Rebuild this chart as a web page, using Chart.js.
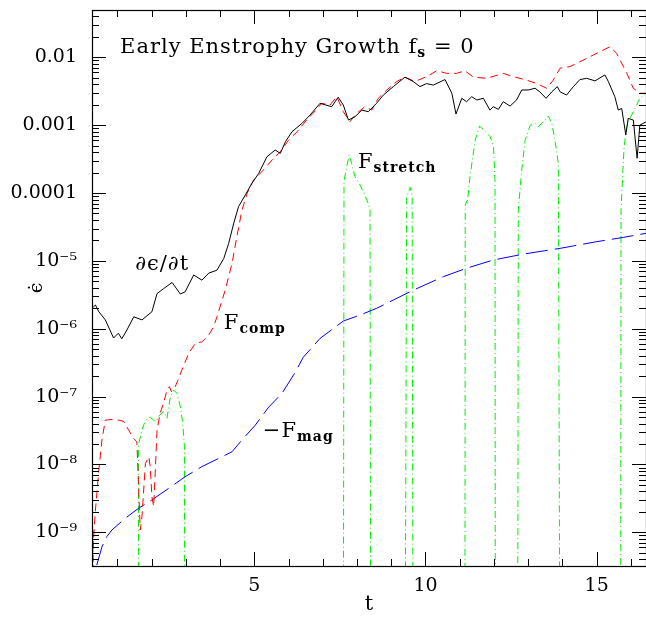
<!DOCTYPE html>
<html>
<head>
<meta charset="utf-8">
<script src="https://cdn.jsdelivr.net/npm/chart.js@4.4.1/dist/chart.umd.min.js"></script>
<style>
body{margin:0;background:#fff}
#wrap{width:646px;height:620px;position:relative}
</style>
</head>
<body>
<div id="wrap"><canvas id="grafico"></canvas></div>
<script>
// d(eps)/dt  (solid black)
const tDedt = [0.26,0.36,0.46,0.65,0.89,1.03,1.13,1.28,1.48,1.72,2.01,2.16,2.35,2.60,2.84,2.98,3.23,3.47,3.67,3.91,
  4.11,4.25,4.40,4.54,4.74,4.93,5.13,5.37,5.61,5.76,5.91,6.10,6.39,6.63,6.92,7.26,7.45,7.60,7.75,7.94,
  8.14,8.33,8.57,8.77,9.06,9.40,9.64,9.84,10.03,10.23,10.57,10.77,10.89,11.06,11.20,11.35,11.50,11.69,11.88,11.98,
  12.13,12.27,12.47,12.66,12.81,13.00,13.20,13.34,13.52,13.69,13.85,13.93,14.12,14.32,14.51,14.71,14.95,15.24,15.34,15.53,
  15.63,15.73,15.85,15.92,16.07,16.18,16.26,16.44];
const dedt = [2.0e-6,2.24e-6,1.78e-6,1.35e-6,7.3e-7,8.6e-7,7.1e-7,9.6e-7,1.5e-6,1.35e-6,1.78e-6,3.3e-6,3.9e-6,4.8e-6,3.25e-6,3.5e-6,6.2e-6,5.2e-6,6.6e-6,7.3e-6,
  1.09e-5,1.8e-5,3.6e-5,6.3e-5,9.4e-5,1.39e-4,1.95e-4,3.43e-4,4.3e-4,3.85e-4,5.7e-4,8.0e-4,1.06e-3,1.41e-3,2.1e-3,1.87e-3,2.58e-3,1.98e-3,1.19e-3,1.33e-3,
  1.67e-3,1.58e-3,2.1e-3,2.78e-3,3.7e-3,5.1e-3,4.4e-3,3.7e-3,4.1e-3,3.9e-3,4.7e-3,2.95e-3,1.46e-3,2.49e-3,2.22e-3,2.63e-3,2.35e-3,2.49e-3,1.67e-3,1.87e-3,
  1.71e-3,2.22e-3,1.91e-3,2.35e-3,3.3e-3,3.3e-3,3.5e-3,3.1e-3,2.49e-3,3.1e-3,3.7e-3,3.1e-3,2.78e-3,3.7e-3,4.7e-3,4.9e-3,4.5e-3,5.5e-3,4.4e-3,2.63e-3,
  1.67e-3,1.77e-3,7.2e-4,1.26e-3,1.19e-3,3.25e-4,1.0e-3,1.12e-3];

// F_comp  (red dashed)
const tComp = [0.26,0.36,0.46,0.55,0.65,0.85,1.04,1.19,1.33,1.48,1.57,1.62,1.67,1.72,1.82,1.92,1.96,2.01,2.06,2.11,
  2.16,2.25,2.35,2.45,2.52,2.58,2.69,2.77,2.89,3.08,3.28,3.47,3.67,3.81,3.91,4.15,4.35,4.49,4.64,4.79,
  4.98,5.22,5.52,5.76,6.00,6.25,6.33,6.53,6.72,6.97,7.21,7.41,7.60,7.79,7.99,8.23,8.43,8.62,8.87,9.16,
  9.40,9.69,10.04,10.33,10.62,10.91,11.15,11.40,11.79,12.27,12.56,12.96,13.25,13.54,13.73,13.93,14.22,14.51,14.90,15.19,
  15.39,15.58,15.88,16.07,16.26,16.44];
const fComp = [3.5e-10,2.13e-9,8.3e-9,2.3e-8,4.5e-8,4.6e-8,4.5e-8,4.3e-8,3.2e-8,2.4e-8,2.16e-8,4.7e-9,1.08e-9,1.7e-9,1.04e-8,1.3e-8,9.3e-9,3.35e-9,2.4e-9,8.3e-9,
  3.2e-8,5.7e-8,8e-8,1.25e-7,1.4e-7,1.18e-7,1.4e-7,1.75e-7,2.5e-7,4.3e-7,6.1e-7,6.4e-7,8.1e-7,1.07e-6,1.5e-6,3.7e-6,9.2e-6,2.27e-5,5.6e-5,9.9e-5,
  1.56e-4,2.06e-4,3.07e-4,4.07e-4,6.0e-4,8.0e-4,9.0e-4,1.19e-3,1.5e-3,2.1e-3,1.98e-3,2.63e-3,1.58e-3,1.12e-3,1.5e-3,1.87e-3,1.67e-3,2.49e-3,3.3e-3,4.4e-3,
  5.1e-3,4.4e-3,5.2e-3,6.35e-3,5.8e-3,5.8e-3,6.35e-3,5.1e-3,4.9e-3,5.8e-3,5.2e-3,4.6e-3,4.1e-3,3.5e-3,4.6e-3,6.9e-3,7.3e-3,8.6e-3,1.08e-2,1.28e-2,
  1.43e-2,1.15e-2,5.8e-3,3.5e-3,2.95e-3,2.95e-3];

// -F_mag  (blue long dashes)
const tMag = [0.40,0.55,0.69,0.84,1.23,1.62,2.01,2.50,2.98,3.47,3.96,4.35,4.64,5.03,5.42,5.81,6.20,6.43,6.92,7.31,
  7.60,8.09,8.57,9.06,9.64,10.52,11.20,11.98,12.86,13.93,15.00,15.78,16.44];
const fMag = [3.3e-10,6.1e-10,8.6e-10,1.08e-9,1.61e-9,2.26e-9,3.0e-9,4.45e-9,6.6e-9,9.3e-9,1.23e-8,1.54e-8,2.3e-8,3.8e-8,7.0e-8,1.12e-7,2.3e-7,3.8e-7,7.2e-7,1.01e-6,
  1.3e-6,1.59e-6,2.0e-6,2.65e-6,3.7e-6,5.85e-6,7.8e-6,1.03e-5,1.26e-5,1.53e-5,1.92e-5,2.22e-5,2.55e-5];

// F_stretch  (green dash-dot); 1e-12 = off the bottom of the plot
const tStretch = [0.26,0.30,0.33,1.61,1.62,1.72,1.82,1.96,2.11,2.25,2.35,2.45,2.55,2.65,2.74,2.84,2.91,2.96,2.97,
  7.60,7.62,7.70,7.77,7.84,7.94,8.09,8.18,8.33,8.38,8.40,
  9.40,9.45,9.55,9.61,9.64,
  11.15,11.16,11.20,11.22,11.30,11.45,11.58,11.70,11.89,11.99,12.03,12.04,
  12.69,12.71,12.81,12.91,13.06,13.20,13.29,13.44,13.59,13.69,13.78,13.88,13.93,
  15.70,15.71,15.80,15.88,15.97,16.12,16.26,16.44];
const fStretch = [1.2e-9,1.0e-9,1e-12,1e-12,2.0e-8,3.2e-8,4.5e-8,4.95e-8,4.3e-8,5.4e-8,6.0e-8,4.8e-8,1.0e-7,1.25e-7,1.12e-7,7.1e-8,4.0e-8,1.83e-8,1e-12,
  1e-12,1.5e-4,2.45e-4,3.63e-4,2.74e-4,1.74e-4,1.31e-4,1.05e-4,7.0e-5,5.6e-5,1e-12,
  1e-12,8.8e-5,1.21e-4,9e-5,1e-12,
  1e-12,6.5e-5,7.6e-5,7.0e-5,1.74e-4,6.0e-4,9.7e-4,8.5e-4,6.8e-4,4.6e-4,1.5e-4,1e-12,
  1e-12,5.6e-5,2.18e-4,6.0e-4,1.0e-3,1.06e-3,9.5e-4,1.12e-3,1.36e-3,1.06e-3,6.0e-4,2.74e-4,1e-12,
  1e-12,5.6e-5,4.8e-4,9.5e-4,1.26e-3,1.77e-3,2.49e-3,2.95e-3];

const yTickValues = [1e-9,1e-8,1e-7,1e-6,1e-5,1e-4,1e-3,1e-2];
const yTickLabels = ['10⁻⁹','10⁻⁸','10⁻⁷','10⁻⁶','10⁻⁵','0.0001','0.001','0.01'];
const xTickValues = [5,10,15];
const xTickLabels = ['5','10','15'];

const FONT = '"DejaVu Serif", serif';

function puntos(ts, vs){
    return ts.map((t, i) => ({x: t, y: vs[i]}));
}

// text put on the plot, anchored at data coordinates (left edge, baseline)
const etiquetas = [
    {t: 1.08, v: 0.0117, parts: [['Early Enstrophy Growth f', 0], ['s', 1], [' = 0', 0]]},
    {t: 1.52, v: 7.35e-6, parts: [['∂ϵ/∂t', 0]]},
    {t: 4.11, v: 9.75e-7, parts: [['F', 0], ['comp', 1]]},
    {t: 8.03, v: 2.34e-4, parts: [['F', 0], ['stretch', 1]]},
    {t: 5.25, v: 2.54e-8, parts: [['−F', 0], ['mag', 1]]}
];

const marco = {
    id: 'marco',
    afterDatasetsDraw(chart){
        const ctx = chart.ctx;
        const a = chart.chartArea;
        const xs = chart.scales.x, ys = chart.scales.y;
        ctx.save();
        ctx.strokeStyle = '#000';
        ctx.lineWidth = 1.2;
        ctx.strokeRect(a.left + 0.5, a.top + 0.5, a.right - a.left, a.bottom - a.top);
        ctx.lineWidth = 1;
        ctx.beginPath();
        // x ticks, every 1, major every 5
        for (let t = 1; t <= 16; t++){
            const px = Math.round(xs.getPixelForValue(t)) + 0.5;
            const len = (t % 5 === 0) ? 14 : 7;
            ctx.moveTo(px, a.bottom); ctx.lineTo(px, a.bottom - len);
            ctx.moveTo(px, a.top); ctx.lineTo(px, a.top + len);
        }
        // y ticks, decades and 2..9
        for (let e = -10; e <= -1; e++){
            for (let m = 1; m <= 9; m++){
                const v = m * Math.pow(10, e);
                if (v < ys.min || v > ys.max) continue;
                const py = Math.round(ys.getPixelForValue(v)) + 0.5;
                const len = (m === 1) ? 14 : 7;
                ctx.moveTo(a.left, py); ctx.lineTo(a.left + len, py);
                ctx.moveTo(a.right, py); ctx.lineTo(a.right - len, py);
            }
        }
        ctx.stroke();

        ctx.fillStyle = '#000';
        ctx.textBaseline = 'alphabetic';
        ctx.textAlign = 'left';
        ctx.letterSpacing = '1px';
        etiquetas.forEach(l => {
            let x = xs.getPixelForValue(l.t);
            const y = ys.getPixelForValue(l.v);
            l.parts.forEach(p => {
                ctx.font = p[1] ? 'bold 14px ' + FONT : '21px ' + FONT;
                ctx.fillText(p[0], x, y + (p[1] ? 4 : 0));
                x += ctx.measureText(p[0]).width;
            });
        });
        ctx.restore();
    }
};

const ctx = document.getElementById('grafico').getContext('2d');
const grafico = new Chart(ctx, {
    type: 'line',
    data: {
        datasets: [
            {label: 'dedt', data: puntos(tDedt, dedt), borderColor: '#000000', borderWidth: 1},
            {label: 'F_comp', data: puntos(tComp, fComp), borderColor: '#ff0000', borderWidth: 1, borderDash: [8, 5]},
            {label: '-F_mag', data: puntos(tMag, fMag), borderColor: '#0000ff', borderWidth: 1, borderDash: [22, 7]},
            {label: 'F_stretch', data: puntos(tStretch, fStretch), borderColor: '#00ee00', borderWidth: 1, borderDash: [7, 3, 1, 3]}
        ]
    },
    options: {
        responsive: true,
        maintainAspectRatio: false,
        animation: false,
        events: [],
        layout: {padding: {top: 10, right: 0, left: 0, bottom: 0}},
        elements: {point: {radius: 0}, line: {tension: 0}},
        plugins: {legend: {display: false}, tooltip: {enabled: false}},
        scales: {
            x: {
                type: 'linear',
                min: 0.26,
                max: 16.44,
                grid: {display: false, drawTicks: false},
                border: {display: false},
                afterBuildTicks: s => { s.ticks = xTickValues.map(v => ({value: v})); },
                afterFit: s => { s.height = 54; s.paddingLeft = 0; s.paddingRight = 0; },
                ticks: {
                    padding: 9,
                    color: '#000',
                    font: {family: FONT, size: 19},
                    maxRotation: 0,
                    callback: v => xTickLabels[xTickValues.indexOf(v)]
                },
                title: {display: true, text: 't', color: '#000', font: {family: FONT, size: 21}, padding: {top: 0, bottom: 3}}
            },
            y: {
                type: 'logarithmic',
                min: 3.19e-10,
                max: 0.0498,
                grid: {display: false, drawTicks: false},
                border: {display: false},
                afterBuildTicks: s => { s.ticks = yTickValues.map(v => ({value: v})); },
                afterFit: s => { s.width = 92; s.paddingTop = 0; s.paddingBottom = 0; },
                ticks: {
                    padding: 15,
                    color: '#000',
                    font: {family: FONT, size: 19},
                    callback: v => yTickLabels[yTickValues.indexOf(v)]
                },
                title: {display: true, text: 'ϵ̇', color: '#000', font: {family: FONT, size: 19}, padding: {top: 26, bottom: 0}}
            }
        }
    },
    plugins: [marco]
});
</script>
</body>
</html>
